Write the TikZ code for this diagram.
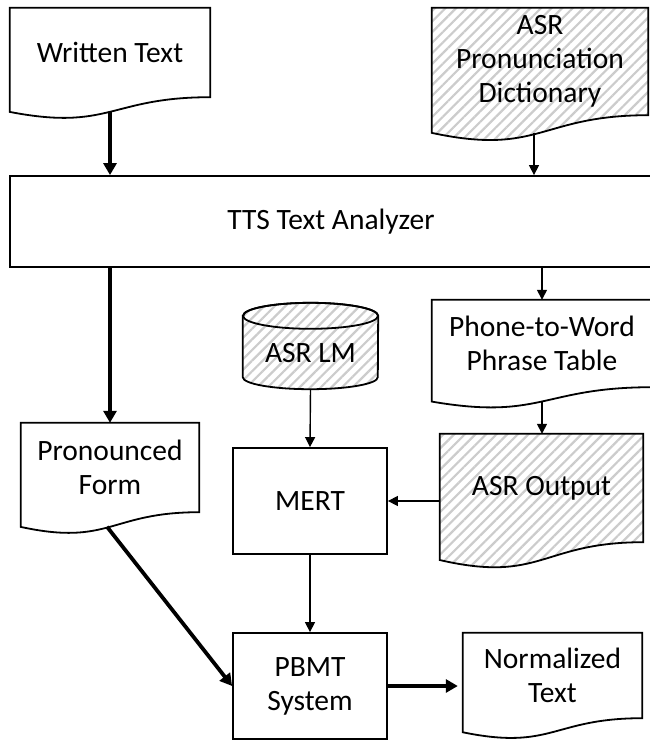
\documentclass[tikz,border=0pt]{standalone}
\usepackage{fontspec}
\setmainfont{Carlito}
\usetikzlibrary{arrows.meta,calc,backgrounds,patterns.meta}

% flowchart "document" outline, wavy bottom under the node
\newcommand{\docshape}[2][]{%
  \draw[docline,#1] (#2.north west) -- (#2.north east) -- (#2.south east)
    .. controls (#2.south) and ($(#2.south)!-0.381!(#2.north)$)
    .. ($(#2.south west)!-0.1646!(#2.north west)$) -- cycle;
  \coordinate (#2-b) at ($(#2.south)!-0.163!(#2.north)$);}

\begin{document}
\begin{tikzpicture}[x=1pt, y=-1pt,
  every node/.style = {align=center, inner sep=0pt,
    font=\fontsize{29.5}{34}\selectfont},
  box/.style = {draw, line width=1.8pt, fill=white},
  docline/.style = {line width=1.8pt, fill=white},
  hatch/.style = {pattern={Lines[angle=45,distance=7.5pt,line width=2.2pt]},
    pattern color=black!20},
  line/.style = {-{Triangle[length=10pt,width=10pt]}, line width=1.4pt},
  bigline/.style = {-{Triangle[length=12pt,width=13pt]}, line width=3.8pt}]
  \useasboundingbox (0,0) rectangle (649,740);

  \node (wt) [minimum width=200pt, minimum height=89pt] at (110,52.5) {Written Text};
  \node (dict) [minimum width=216pt, minimum height=107pt] at (540,61.5) {ASR\\ Pronunciation\\ Dictionary};
  \node (tts) [box, minimum width=642pt, minimum height=91pt] at (331,221.5) {TTS Text Analyzer};
  \node (ptw) [minimum width=220pt, minimum height=87pt] at (542,343.5) {Phone-to-Word\\ Phrase Table};
  \node (lm) [minimum width=135pt, minimum height=48pt] at (310.5,353) {ASR LM};
  \node (pf) [minimum width=178pt, minimum height=89pt] at (110,467.5) {Pronounced\\ Form};
  \node (mert) [box, minimum width=154pt, minimum height=106pt] at (310,501) {MERT};
  \node (asr) [minimum width=203pt, minimum height=108pt] at (541.5,488) {ASR Output};
  \node (pbmt) [box, minimum width=154pt, minimum height=106pt] at (310,686) {PBMT\\ System};
  \node (nt) [minimum width=179pt, minimum height=85pt] at (552.5,675.5) {Normalized\\ Text};

  \begin{scope}[on background layer]
    \docshape{wt}
    \docshape[hatch]{dict}
    \docshape{ptw}
    \docshape{pf}
    \docshape[hatch]{asr}
    \docshape{nt}
    % cylinder
    \draw[line width=1.8pt, hatch] ([yshift=13pt]lm.north west) -- (lm.south west)
      arc[start angle=180, end angle=360, x radius=67.5pt, y radius=12pt]
      -- ([yshift=13pt]lm.north east)
      arc[start angle=0, end angle=180, x radius=67.5pt, y radius=13pt] -- cycle;
    \draw[line width=1.8pt] ([yshift=13pt]lm.north) ellipse [x radius=67.5pt, y radius=13pt];
    \coordinate (lm-b) at ([yshift=-12pt]lm.south);
  \end{scope}

  \draw[bigline] (wt-b) -- (wt-b |- tts.north);
  \draw[line] ([xshift=-6pt]dict-b) -- ([xshift=-6pt]dict-b |- tts.north);
  \draw[bigline] (tts.south -| pf.north) -- (pf.north);
  \draw[line] (tts.south -| ptw.north) -- (ptw.north);
  \draw[line] (lm-b) -- (mert.north);
  \draw[line] (ptw-b) -- (ptw-b |- asr.north);
  \draw[line] (asr.west |- mert.east) -- (mert.east);
  \draw[line] (mert.south) -- (pbmt.north);
  \draw[bigline] ([xshift=-3pt]pf-b) -- (pbmt.west);
  \draw[bigline, shorten >=5pt] (pbmt.east) -- (pbmt.east -| nt.west);

\end{tikzpicture}
\end{document}
